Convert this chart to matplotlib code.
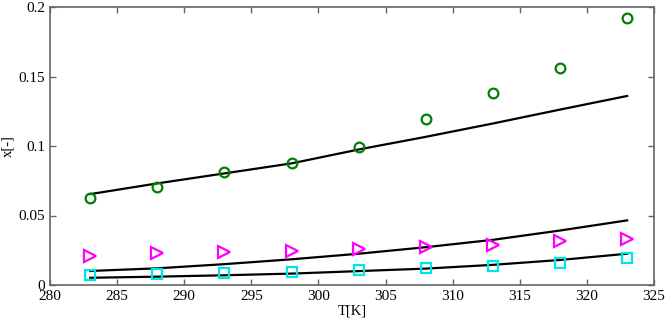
import matplotlib
matplotlib.use("Agg")
import matplotlib.pyplot as plt

T = [283, 288, 293, 298, 303, 308, 313, 318, 323]

exp_circle = [0.0623, 0.0702, 0.0814, 0.0879, 0.0994, 0.1193, 0.1378, 0.1562, 0.1924]
exp_triangle = [0.0211, 0.0228, 0.0235, 0.0244, 0.0257, 0.0271, 0.0287, 0.0316, 0.0328]
exp_square = [0.0070, 0.0079, 0.0088, 0.0093, 0.0108, 0.0122, 0.0137, 0.0158, 0.0192]

model_top = [0.0654, 0.0731, 0.0803, 0.0875, 0.0975, 0.1066, 0.1162, 0.1262, 0.1360]
model_mid = [0.0101, 0.0120, 0.0150, 0.0185, 0.0225, 0.0272, 0.0325, 0.0392, 0.0465]
model_bot = [0.0052, 0.0060, 0.0070, 0.0082, 0.0100, 0.0118, 0.0145, 0.0180, 0.0225]

xticks = [280, 285, 290, 295, 300, 305, 310, 315, 320, 325]
yticks = [0, 0.05, 0.1, 0.15, 0.2]
yticklabels = ["0", "0.05", "0.1", "0.15", "0.2"]

plt.rcParams['font.family'] = ['Liberation Serif', 'DejaVu Serif']

fig = plt.figure(figsize=(6.66, 3.23), dpi=100)
ax = fig.add_axes([50/666, 1-285/323, (654-50)/666, (285-7)/323])

for ys in (model_top, model_mid, model_bot):
    ax.plot(T, ys, color='black', lw=1.6, zorder=2)

ax.plot(T, exp_circle, linestyle='none', marker='o', ms=7, mfc='none', mec='#008000', mew=1.6, zorder=3)
ax.plot(T, exp_triangle, linestyle='none', marker='>', ms=8, mfc='none', mec='#ff00ff', mew=1.6, zorder=3)
ax.plot(T, exp_square, linestyle='none', marker='s', ms=7, mfc='none', mec='#00e5e5', mew=1.6, zorder=3)

ax.set_xlim(280, 325)
ax.set_ylim(0, 0.2)
ax.set_xticks(xticks)
ax.set_xticklabels([str(t) for t in xticks])
ax.set_yticks(yticks)
ax.set_yticklabels(yticklabels)
ax.tick_params(direction='in', top=True, right=True, labelsize=11, colors='#666666', labelcolor='black', length=4, width=1)
for s in ax.spines.values():
    s.set_color('#666666')
    s.set_linewidth(1.2)
ax.set_xlabel('T[K]', fontsize=10.5, labelpad=1)
ax.set_ylabel('x[-]', fontsize=10.5, labelpad=3)

fig.savefig('out.png', dpi=100)
